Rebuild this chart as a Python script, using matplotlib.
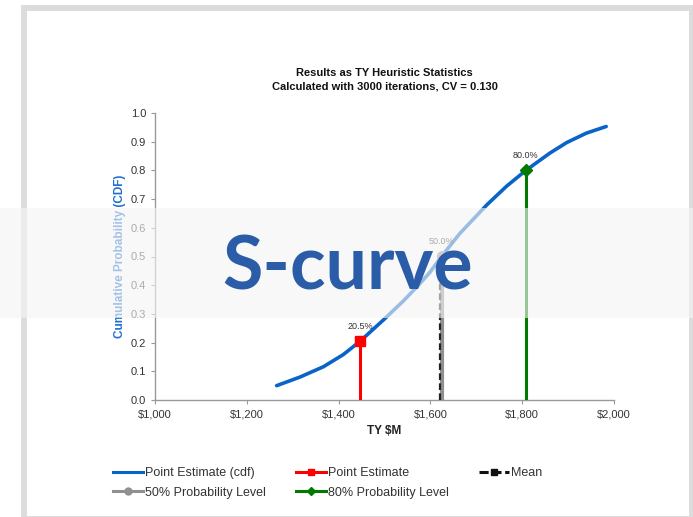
import matplotlib.pyplot as plt
from matplotlib.patches import Rectangle
from matplotlib.lines import Line2D
from matplotlib.ticker import FuncFormatter

# S-curve (TY $M vs cumulative probability)
cost = [1265, 1316, 1367, 1410, 1447, 1497, 1541, 1574, 1599, 1625, 1664, 1723, 1766, 1808, 1860, 1897, 1940, 1983]
cdf = [0.050, 0.080, 0.116, 0.158, 0.205, 0.278, 0.345, 0.400, 0.445, 0.502, 0.580, 0.680, 0.745, 0.800, 0.860, 0.897, 0.930, 0.953]

point_est = (1447, 0.205)
mean_val = (1622, 0.50)
p50 = (1625, 0.502)
p80 = (1808, 0.800)
label_point = "20.5%"
label_p50 = "50.0%"
label_p80 = "80.0%"

plt.rcParams['font.family'] = ['Liberation Sans', 'DejaVu Sans']

fig = plt.figure(figsize=(6.93, 5.17), dpi=100)
W, H = 693, 517

# slide frame
fig.patches.append(Rectangle((21 / W, 0), (W - 21) / W, (H - 5) / H, transform=fig.transFigure,
                             facecolor='#dcdcdc', edgecolor='none', zorder=-3))
fig.patches.append(Rectangle((27 / W, 1 / H), (W - 27 - 4) / W, (H - 11 - 1) / H, transform=fig.transFigure,
                             facecolor='white', edgecolor='none', zorder=-2))

ax = fig.add_axes([155 / W, 1 - 400 / H, (614 - 155) / W, (400 - 113) / H])
ax.set_zorder(1)
ax.patch.set_alpha(0)

blue = '#0a64c8'
ax.plot(cost, cdf, color=blue, lw=2.6, solid_capstyle='round', solid_joinstyle='round', zorder=3)

# vertical markers
ax.plot([point_est[0], point_est[0]], [0, point_est[1]], color='#ff0000', lw=2.2, zorder=4)
ax.plot(point_est[0], point_est[1], 's', color='#ff0000', ms=7, zorder=5)
ax.plot([p50[0], p50[0]], [0, p50[1]], color='#909090', lw=3, zorder=4)
ax.plot(p50[0], p50[1], 'o', color='#909090', ms=7, zorder=5)
ax.plot([mean_val[0], mean_val[0]], [0, mean_val[1]], color='#222222', lw=1.6, ls=(0, (3, 1.5)), zorder=5)
ax.plot([p80[0], p80[0]], [0, p80[1]], color='#007a00', lw=2.2, zorder=4)
ax.plot(p80[0], p80[1], 'D', color='#007a00', ms=6, zorder=5)

ax.text(point_est[0], point_est[1] + 0.035, label_point, ha='center', va='bottom', fontsize=6.5, color='#333333')
ax.text(p50[0], p50[1] + 0.035, label_p50, ha='center', va='bottom', fontsize=6.5, color='#333333')
ax.text(p80[0], p80[1] + 0.035, label_p80, ha='center', va='bottom', fontsize=6.5, color='#333333')

ax.set_xlim(1000, 2000)
ax.set_ylim(0, 1.0)
ax.set_xticks([1000, 1200, 1400, 1600, 1800, 2000])
ax.set_yticks([i / 10 for i in range(11)])
ax.xaxis.set_major_formatter(FuncFormatter(lambda v, p: f"${v:,.0f}"))
ax.yaxis.set_major_formatter(FuncFormatter(lambda v, p: f"{v:.1f}"))
ax.tick_params(labelsize=8, colors='#999999', labelcolor='#333333', length=3, width=0.8)
for s in ['top', 'right']:
    ax.spines[s].set_visible(False)
for s in ['left', 'bottom']:
    ax.spines[s].set_color('#999999')
    ax.spines[s].set_linewidth(1.0)

ax.set_xlabel("TY $M", fontsize=8.5, fontweight='bold', color='#222222', labelpad=4)
ax.set_ylabel("Cumulative Probability (CDF)", fontsize=8.5, fontweight='bold', color='#1f6fd0', labelpad=3)
ax.set_title("Results as TY Heuristic Statistics\nCalculated with 3000 iterations, CV = 0.130",
             fontsize=8, fontweight='bold', color='#111111', pad=17, linespacing=1.45)

handles = [
    Line2D([], [], color=blue, lw=2.2),
    Line2D([], [], color='#909090', lw=2.2, marker='o', ms=5),
    Line2D([], [], color='#ff0000', lw=2.2, marker='s', ms=5),
    Line2D([], [], color='#007a00', lw=2.2, marker='D', ms=4),
    Line2D([], [], color='#111111', lw=2.2, ls=(0, (3, 1.2)), marker='s', ms=5),
]
labels = ["Point Estimate (cdf)", "50% Probability Level", "Point Estimate",
          "80% Probability Level", "Mean"]
fig.legend(handles, labels, ncol=3, loc='upper left', bbox_to_anchor=(102 / W, 1 - 456 / H),
           frameon=False, fontsize=9, handlelength=2.4, handletextpad=0.15, columnspacing=2.4,
           labelspacing=0.6, labelcolor='#333333')

# translucent band with the big title
fig.patches.append(Rectangle((0, 1 - 318 / H), 1, 110 / H, transform=fig.transFigure,
                             facecolor='#f5f5f5', edgecolor='none', alpha=0.62, zorder=10))
fig.text(348 / W, 1 - 268 / H, "S-curve", ha='center', va='center', fontsize=53,
         fontweight='bold', color='#2a5ca8', family=['Lato', 'DejaVu Sans'], zorder=11)

fig.savefig("out.png", dpi=100)
